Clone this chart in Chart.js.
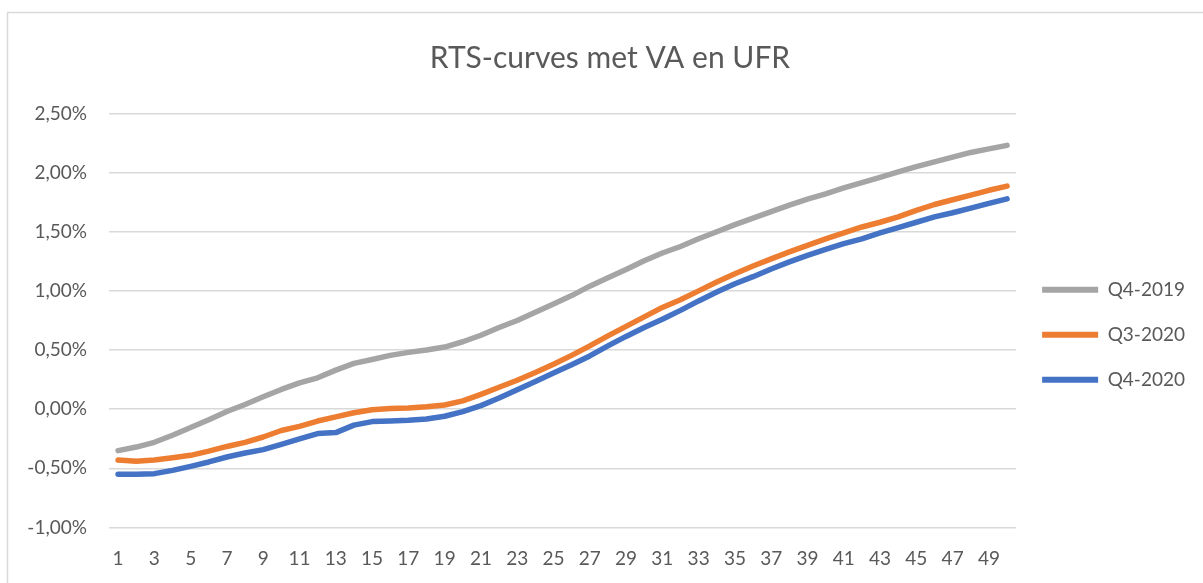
<!DOCTYPE html>
<html>
<head>
<meta charset="utf-8">
<script src="https://cdn.jsdelivr.net/npm/chart.js@4.4.1/dist/chart.umd.min.js"></script>
<style>
    html, body { margin: 0; padding: 0; background: #ffffff; }
    canvas { display: block; }
</style>
</head>
<body>
<canvas id="rtsChart" width="1203" height="583"></canvas>
<script>
// looptijd in jaren
const looptijden = ['1', '2', '3', '4', '5', '6', '7', '8', '9', '10',
    '11', '12', '13', '14', '15', '16', '17', '18', '19', '20',
    '21', '22', '23', '24', '25', '26', '27', '28', '29', '30',
    '31', '32', '33', '34', '35', '36', '37', '38', '39', '40',
    '41', '42', '43', '44', '45', '46', '47', '48', '49', '50'];

// rentes in procenten
const q4_2019 = [-0.35, -0.32, -0.28, -0.22, -0.155, -0.09, -0.02, 0.04, 0.105, 0.167,
    0.223, 0.265, 0.33, 0.387, 0.42, 0.455, 0.48, 0.50, 0.525, 0.57,
    0.625, 0.69, 0.75, 0.82, 0.89, 0.96, 1.04, 1.11, 1.18, 1.255,
    1.32, 1.375, 1.44, 1.50, 1.56, 1.615, 1.67, 1.725, 1.775, 1.82,
    1.87, 1.915, 1.96, 2.005, 2.05, 2.09, 2.13, 2.17, 2.20, 2.23];

const q3_2020 = [-0.43, -0.44, -0.43, -0.41, -0.39, -0.355, -0.315, -0.28, -0.235, -0.18,
    -0.145, -0.10, -0.065, -0.03, -0.005, 0.005, 0.01, 0.02, 0.035, 0.07,
    0.125, 0.185, 0.245, 0.31, 0.38, 0.455, 0.535, 0.62, 0.70, 0.78,
    0.86, 0.925, 1.0, 1.075, 1.145, 1.21, 1.27, 1.33, 1.385, 1.44,
    1.49, 1.54, 1.58, 1.625, 1.68, 1.73, 1.77, 1.81, 1.85, 1.885];

const q4_2020 = [-0.55, -0.55, -0.545, -0.517, -0.483, -0.446, -0.404, -0.37, -0.342, -0.297,
    -0.25, -0.206, -0.198, -0.135, -0.105, -0.10, -0.094, -0.083, -0.06, -0.02,
    0.03, 0.094, 0.165, 0.235, 0.305, 0.375, 0.45, 0.535, 0.615, 0.69,
    0.76, 0.835, 0.915, 0.99, 1.06, 1.12, 1.185, 1.245, 1.30, 1.35,
    1.40, 1.44, 1.49, 1.535, 1.58, 1.625, 1.66, 1.70, 1.74, 1.778];

const reeksNamen = ['Q4-2019', 'Q3-2020', 'Q4-2020'];
const reeksKleuren = ['#a5a5a5', '#ed7d31', '#4472c4'];

const tekstKleur = '#595959';
const rasterKleur = '#d9d9d9';
const lettertype = 'Lato, "Open Sans", sans-serif';

function procent(v) {
    return v.toFixed(2).replace('.', ',') + '%';
}

// kader rond het grafiekgebied, zoals in Excel
const kader = {
    id: 'kader',
    beforeDraw(chart) {
        const ctx = chart.ctx;
        ctx.save();
        ctx.fillStyle = '#ffffff';
        ctx.fillRect(0, 0, chart.width, chart.height);
        ctx.strokeStyle = rasterKleur;
        ctx.lineWidth = 1.5;
        ctx.strokeRect(7.5, 12.5, chart.width + 20, chart.height + 20);
        ctx.restore();
    }
};

function maakReeks(i, data) {
    return {
        label: reeksNamen[i],
        data: data,
        borderColor: reeksKleuren[i],
        backgroundColor: reeksKleuren[i],
        borderWidth: 5.5,
        borderCapStyle: 'round',
        borderJoinStyle: 'round',
        pointRadius: 0,
        tension: 0,
        fill: false,
        order: 3 - i
    };
}

const ctx = document.getElementById('rtsChart').getContext('2d');

new Chart(ctx, {
    type: 'line',
    data: {
        labels: looptijden,
        datasets: [
            maakReeks(0, q4_2019),
            maakReeks(1, q3_2020),
            maakReeks(2, q4_2020)
        ]
    },
    options: {
        responsive: false,
        animation: false,
        devicePixelRatio: 1,
        layout: {
            padding: { left: 25, top: 40, right: 8, bottom: 0 }
        },
        scales: {
            x: {
                offset: true,
                grid: { display: false, drawTicks: false },
                border: { display: false },
                ticks: {
                    autoSkip: false,
                    maxRotation: 0,
                    minRotation: 0,
                    padding: 20,
                    color: tekstKleur,
                    font: { family: lettertype, size: 19 },
                    callback: function (val, idx) {
                        return idx % 2 === 0 ? looptijden[idx] : '';
                    }
                },
                afterFit: function (scale) {
                    scale.height = 55.5;
                }
            },
            y: {
                min: -1,
                max: 2.5,
                grid: { color: rasterKleur, lineWidth: 1.5, drawTicks: false },
                border: { display: false },
                ticks: {
                    stepSize: 0.5,
                    padding: 22,
                    color: tekstKleur,
                    font: { family: lettertype, size: 19 },
                    callback: function (val) {
                        return procent(val);
                    }
                },
                afterFit: function (scale) {
                    scale.width = 84;
                }
            }
        },
        plugins: {
            title: {
                display: true,
                text: 'RTS-curves met VA en UFR',
                color: tekstKleur,
                font: { family: lettertype, size: 30, weight: 'normal', lineHeight: 1.2 },
                padding: { top: 0, bottom: 37.4 }
            },
            legend: {
                display: true,
                position: 'right',
                // lege titel schuift de legenda iets naar beneden
                title: {
                    display: true,
                    text: '',
                    font: { size: 12, lineHeight: 1.2 },
                    padding: { top: 16, bottom: 16 }
                },
                labels: {
                    boxWidth: 56,
                    boxHeight: 6,
                    padding: 26,
                    color: tekstKleur,
                    font: { family: lettertype, size: 19 },
                    sort: function (a, b) {
                        return a.datasetIndex - b.datasetIndex;
                    },
                    generateLabels: function (chart) {
                        const items = Chart.defaults.plugins.legend.labels.generateLabels(chart);
                        items.forEach(item => {
                            item.lineWidth = 0;
                            item.fillStyle = reeksKleuren[item.datasetIndex];
                        });
                        return items;
                    }
                }
            },
            tooltip: { enabled: false }
        }
    },
    plugins: [kader]
});
</script>
</body>
</html>
